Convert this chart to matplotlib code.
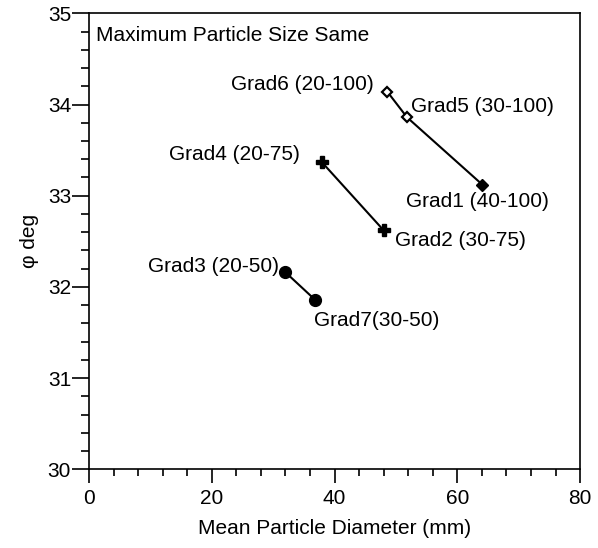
import matplotlib
matplotlib.use('Agg')
import matplotlib.pyplot as plt
from matplotlib.ticker import MultipleLocator

plt.rcParams['font.family'] = ['Liberation Sans', 'DejaVu Sans']

# grading curves, grouped by maximum particle size
d100_x = [48.6, 51.8, 64.1]
d100_phi = [34.14, 33.86, 33.12]
d100_names = ['Grad6 (20-100)', 'Grad5 (30-100)', 'Grad1 (40-100)']

d75_x = [37.9, 48.0]
d75_phi = [33.37, 32.62]
d75_names = ['Grad4 (20-75)', 'Grad2 (30-75)']

d50_x = [32.0, 36.8]
d50_phi = [32.16, 31.86]
d50_names = ['Grad3 (20-50)', 'Grad7(30-50)']

FS = 15

fig = plt.figure(figsize=(5.98, 5.48), dpi=100)
ax = fig.add_axes([0.149, 0.1436, 0.821, 0.8321])

ax.plot(d100_x, d100_phi, '-', color='k', lw=1.5, zorder=1)
ax.plot(d100_x[:2], d100_phi[:2], 'D', ms=5.5, mfc='white', mec='k', mew=1.6, zorder=2)
ax.plot(d100_x[2:], d100_phi[2:], 'D', ms=6, mfc='k', mec='k', zorder=2)
ax.plot(d75_x, d75_phi, '-P', color='k', lw=1.5, ms=9, zorder=2)
ax.plot(d50_x, d50_phi, '-o', color='k', lw=1.5, ms=8.5, zorder=2)

# label offsets in points from each marker
offsets = {
    'Grad6 (20-100)': (-10, 5.5, 'right'),
    'Grad5 (30-100)': (3, 8, 'left'),
    'Grad1 (40-100)': (-55, -12, 'left'),
    'Grad4 (20-75)': (-16, 5.5, 'right'),
    'Grad2 (30-75)': (8, -7, 'left'),
    'Grad3 (20-50)': (-5, 4, 'right'),
    'Grad7(30-50)': (-1, -15, 'left'),
}
for xs, ys, names in [(d100_x, d100_phi, d100_names),
                      (d75_x, d75_phi, d75_names),
                      (d50_x, d50_phi, d50_names)]:
    for x, y, name in zip(xs, ys, names):
        dx, dy, ha = offsets[name]
        ax.annotate(name, (x, y), xytext=(dx, dy), textcoords='offset points',
                    ha=ha, va='center', fontsize=FS)

ax.text(0.015, 0.952, 'Maximum Particle Size Same', transform=ax.transAxes,
        ha='left', va='center', fontsize=FS)

ax.set_xlim(0, 80)
ax.set_ylim(30, 35)
ax.xaxis.set_major_locator(MultipleLocator(20))
ax.xaxis.set_minor_locator(MultipleLocator(4))
ax.yaxis.set_major_locator(MultipleLocator(1))
ax.yaxis.set_minor_locator(MultipleLocator(0.2))

ax.tick_params(axis='both', which='both', direction='out', top=False, right=False,
               labelsize=FS, width=1.2, pad=1)
ax.tick_params(axis='x', which='major', length=10, pad=4)
ax.tick_params(axis='x', which='minor', length=5)
ax.tick_params(axis='y', which='major', length=12)
ax.tick_params(axis='y', which='minor', length=6)
for s in ax.spines.values():
    s.set_linewidth(1.2)

ax.set_xlabel('Mean Particle Diameter (mm)', fontsize=FS, labelpad=8)
ax.set_ylabel('φ deg', fontsize=FS, labelpad=6)

fig.savefig('out.png', dpi=100, facecolor='white')
